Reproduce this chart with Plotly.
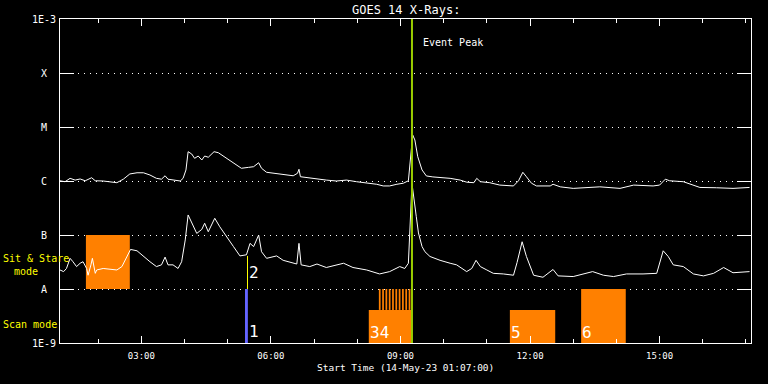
import plotly.graph_objects as go
import numpy as np

DATE = "2023-05-14 "
X_START, X_END = "01:07", "17:07"
EVENT_PEAK = "09:16"

# GOES 14 long channel (1-8 A), units of 1e-6 W/m^2
long_times = ["01:07","01:14","01:21","01:28","01:35","01:42","01:51","01:56","02:07","02:16",
              "02:26","02:35","02:44","02:54","03:03","03:12","03:21","03:28","03:33","03:37",
              "03:47","03:54","03:58","04:02","04:05","04:10","04:14","04:19","04:24","04:28",
              "04:33","04:41","04:47","04:54","05:03","05:10","05:19","05:29","05:36","05:43",
              "05:47","05:54","06:03","06:17","06:31","06:37","06:39","06:41","06:50","07:04",
              "07:17","07:31","07:45","07:59","08:13","08:27","08:36","08:45","08:55","09:04",
              "09:11","09:13","09:17","09:20","09:24","09:30","09:36","09:45","10:09","10:23",
              "10:32","10:42","10:46","10:51","11:04","11:18","11:37","11:44","11:50","11:55",
              "12:02","12:09","12:28","12:32","12:42","13:00","13:19","13:37","14:05","14:24",
              "14:51","15:00","15:08","15:14","15:33","15:42","15:56","16:19","16:42","17:05"]
long_flux_e6 = [1.01,0.97,1.12,1.04,1.09,1.01,1.15,1.01,1.0,0.97,
                0.93,1.08,1.35,1.42,1.42,1.29,1.12,1.08,1.25,1.08,
                1.04,1.0,1.12,1.6,3.49,3.16,2.63,2.9,2.45,2.9,
                2.75,3.49,3.34,2.9,2.45,2.06,1.72,1.79,1.84,2.18,
                1.72,1.45,1.39,1.33,1.25,1.39,1.65,1.2,1.15,1.1,
                1.04,1.0,1.04,0.97,0.93,0.87,0.81,0.81,0.87,0.91,
                1.01,1.82,7.1,5.75,2.82,1.6,1.24,1.19,1.12,1.04,
                0.95,0.93,1.12,0.97,0.93,0.84,0.81,1.01,1.45,1.2,
                0.91,0.81,0.81,0.87,0.78,0.73,0.76,0.78,0.73,0.84,
                0.81,0.84,1.08,1.01,0.97,0.88,0.76,0.75,0.73,0.76]

# GOES 14 short channel (0.5-4 A), units of 1e-8 W/m^2
short_times = ["01:07","01:12","01:16","01:21","01:25","01:30","01:35","01:39","01:44","01:46",
               "01:50","01:52","01:56","01:58","02:07","02:16","02:26","02:33","02:40","02:45",
               "02:54","03:03","03:12","03:21","03:28","03:33","03:37","03:44","03:51","03:56",
               "04:01","04:05","04:12","04:17","04:24","04:28","04:33","04:42","04:49","04:59",
               "05:08","05:17","05:26","05:31","05:36","05:43","05:47","05:54","06:08","06:17",
               "06:26","06:36","06:39","06:42","06:54","07:04","07:17","07:41","07:54","08:13",
               "08:31","08:45","08:59","09:06","09:11","09:13","09:16","09:22","09:25","09:30",
               "09:34","09:41","09:55","10:09","10:18","10:32","10:39","10:45","10:51","11:00",
               "11:09","11:23","11:37","11:42","11:49","11:55","12:05","12:18","12:32","12:39",
               "13:00","13:27","13:42","13:56","14:14","14:37","14:56","15:05","15:12","15:19",
               "15:33","15:47","16:01","16:15","16:29","16:42","17:05"]
short_flux_e8 = [2.25,2.1,2.4,3.7,3.2,2.6,3.0,3.2,2.4,1.8,
                 2.8,3.7,1.95,2.25,2.4,2.3,2.25,2.6,4.0,5.4,
                 5.1,4.0,3.2,2.6,2.8,3.9,2.8,2.8,2.4,3.2,
                 8.1,23.5,15.3,10.7,12.7,16.5,11.5,20.4,14.2,9.3,
                 6.1,4.1,4.3,7.0,6.1,10.0,4.9,3.7,4.1,3.4,
                 3.2,2.9,7.0,2.8,2.6,2.9,2.5,3.0,2.5,2.25,
                 1.9,2.1,2.6,2.4,3.0,16.7,90,21.8,10.9,6.1,
                 4.9,4.0,3.4,3.0,2.8,2.1,2.4,3.4,2.6,2.25,
                 1.95,1.9,1.8,3.1,7.5,4.0,1.8,1.65,2.3,1.75,
                 1.7,2.1,1.8,1.7,1.9,1.9,1.95,5.1,4.0,2.8,
                 2.6,1.9,1.75,1.95,2.5,2.0,2.1]

# Y axis decades and GOES class labels
y_tick_vals = [1e-9, 1e-8, 1e-7, 1e-6, 1e-5, 1e-4, 1e-3]
y_tick_text = ["1E-9", "A", "B", "C", "M", "X", "1E-3"]

# Sit & stare observation
ss_start, ss_end, ss_lo, ss_hi = ["01:43"], ["02:44"], [1e-8], [1e-7]

# Scan mode observations
scan_labels = ["34", "5", "6"]
scan_start = ["08:16", "11:32", "13:11"]
scan_end = ["09:16", "12:35", "14:13"]
scan_top = [4.1e-9, 4.1e-9, 1e-8]
SCAN_BOTTOM = 1e-9

# Short repeated pointings before the peak
stripe_start = ["08:30:00","08:34:36","08:39:12","08:43:48","08:48:24","08:53:00",
                "08:57:36","09:02:12","09:06:48","09:11:24"]
stripe_end = ["08:32:24","08:37:00","08:41:36","08:46:12","08:50:48","08:55:24",
              "09:00:00","09:04:36","09:09:12","09:13:48"]
stripe_lo, stripe_hi = 4.1e-9, 1e-8

# Observation 1 (blue) and 2 (yellow marker)
obs1_start, obs1_end, obs1_lo, obs1_hi = "05:24", "05:28", 1e-9, 1e-8
obs2_time, obs2_lo, obs2_hi = "05:27:30", 1e-8, 4.1e-8

ORANGE = "#ff8000"
BLUE = "#6464ff"
YELLOW = "#ffff00"
GREEN = "#99cc00"
FONT = "DejaVu Sans Mono"

def T(hm):
    return DATE + hm

fig = go.Figure()

def rect(t0, t1, lo, hi, color):
    fig.add_trace(go.Scatter(x=[T(t0), T(t1), T(t1), T(t0), T(t0)],
                             y=[lo, lo, hi, hi, lo], mode="lines", fill="toself",
                             fillcolor=color, line=dict(width=0, color=color),
                             hoverinfo="skip"))

for a, b, lo, hi in zip(ss_start, ss_end, ss_lo, ss_hi):
    rect(a, b, lo, hi, ORANGE)
for a, b, top in zip(scan_start, scan_end, scan_top):
    rect(a, b, SCAN_BOTTOM, top, ORANGE)
for a, b in zip(stripe_start, stripe_end):
    rect(a, b, stripe_lo, stripe_hi, ORANGE)
rect(obs1_start, obs1_end, obs1_lo, obs1_hi, BLUE)
fig.add_trace(go.Scatter(x=[T(obs2_time)] * 2, y=[obs2_lo, obs2_hi], mode="lines",
                         line=dict(color=YELLOW, width=1), hoverinfo="skip"))

fig.add_trace(go.Scatter(x=[T(t) for t in long_times], y=[v * 1e-6 for v in long_flux_e6],
                         mode="lines", line=dict(color="white", width=1)))
fig.add_trace(go.Scatter(x=[T(t) for t in short_times], y=[v * 1e-8 for v in short_flux_e8],
                         mode="lines", line=dict(color="white", width=1)))

fig.add_trace(go.Scatter(x=[T(EVENT_PEAK)] * 2, y=[y_tick_vals[0], y_tick_vals[-1]], mode="lines",
                         line=dict(color=GREEN, width=2), hoverinfo="skip"))

fig.update_xaxes(type="date", range=[T(X_START), T(X_END)], tickformat="%H:%M",
                 tick0=T("00:00"), dtick=3 * 3600000, ticks="inside", ticklen=7,
                 tickcolor="white", tickwidth=1, showline=True, linecolor="white", linewidth=1,
                 mirror="ticks", showgrid=False, zeroline=False,
                 tickfont=dict(family=FONT, size=9, color="white"), ticklabelstandoff=4,
                 minor=dict(dtick=3600000, tick0=T("00:00"), ticks="inside", ticklen=4,
                            tickcolor="white", tickwidth=1, showgrid=False))
fig.update_yaxes(type="log", range=[np.log10(y_tick_vals[0]), np.log10(y_tick_vals[-1])],
                 tickvals=y_tick_vals, showticklabels=False, ticks="inside", ticklen=14,
                 tickcolor="white", tickwidth=1, showline=True, linecolor="white", linewidth=1,
                 mirror="ticks", showgrid=True, gridcolor="white", gridwidth=1,
                 griddash="1px,5px", zeroline=False)

ann = []
for v, t in zip(y_tick_vals, y_tick_text):
    ann.append(dict(x=-0.0232, xref="paper", y=np.log10(v), yref="y", text=t, showarrow=False,
                    xanchor="center", yanchor="middle",
                    font=dict(family=FONT, size=10, color="white")))
ann.append(dict(x=0.5, y=1.028, xref="paper", yref="paper", text="GOES 14 X-Rays:",
                showarrow=False, xanchor="center", yanchor="middle",
                font=dict(family=FONT, size=12, color="white")))
ann.append(dict(x=0.5, y=-0.077, xref="paper", yref="paper",
                text="Start Time (14-May-23 01:07:00)", showarrow=False,
                xanchor="center", yanchor="middle",
                font=dict(family=FONT, size=9.5, color="white")))
ann.append(dict(x=T(EVENT_PEAK), y=0.926, xref="x", yref="paper", text="Event Peak",
                showarrow=False, xanchor="left", yanchor="middle", xshift=9,
                font=dict(family=FONT, size=10, color="white")))
for txt, xp, yp in [("Sit & Stare", -0.086, 0.2623), ("mode", -0.070, 0.2222),
                    ("Scan mode", -0.086, 0.0586)]:
    ann.append(dict(x=xp, y=yp, xref="paper", yref="paper", text=txt, showarrow=False,
                    xanchor="left", yanchor="middle",
                    font=dict(family=FONT, size=10, color=YELLOW)))
for lab, t in zip(scan_labels, scan_start):
    ann.append(dict(x=T(t), y=0.031, xref="x", yref="paper", text=lab, showarrow=False,
                    xanchor="left", yanchor="middle", xshift=-1,
                    font=dict(family=FONT, size=16, color="white")))
ann.append(dict(x=T(obs1_end), y=0.037, xref="x", yref="paper", text="1", showarrow=False,
                xanchor="left", yanchor="middle", xshift=-1,
                font=dict(family=FONT, size=16, color="white")))
ann.append(dict(x=T(obs1_end), y=0.219, xref="x", yref="paper", text="2", showarrow=False,
                xanchor="left", yanchor="middle", xshift=-1,
                font=dict(family=FONT, size=16, color="white")))

fig.update_layout(width=768, height=384, margin=dict(l=60, r=17, t=19, b=41),
                  paper_bgcolor="black", plot_bgcolor="black", showlegend=False,
                  annotations=ann)

fig.write_html("out.html", config={"displayModeBar": False},
               post_script="document.body.style.margin='0px';"
                           "document.body.style.background='black';")
